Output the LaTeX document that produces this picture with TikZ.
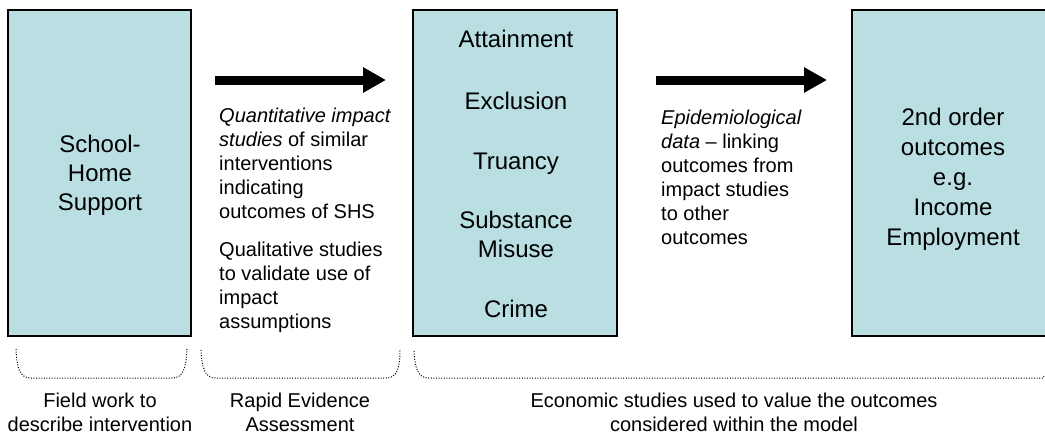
\documentclass[tikz,border=0pt]{standalone}
\usepackage{fontspec}
\setmainfont{Liberation Sans}
\usetikzlibrary{arrows.meta}
\definecolor{boxfill}{RGB}{185,223,227}
\begin{document}
\begin{tikzpicture}[x=1pt,y=-1pt,
  box/.style={draw=black,line width=1.6pt,fill=boxfill},
  boxtxt/.style={font=\fontsize{24}{29}\selectfont,align=center,anchor=base,inner sep=0pt},
  bodytxt/.style={font=\fontsize{20}{24}\selectfont,align=left,anchor=base west,inner sep=0pt},
  captxt/.style={font=\fontsize{20}{24}\selectfont,align=center,anchor=base,inner sep=0pt},
  bigarrow/.style={line width=9pt,-{Triangle[length=23pt,width=24pt]}},
  bracket/.style={line width=1pt,dash pattern=on 1pt off 1.6pt}]
\useasboundingbox (0,0) rectangle (1045,434);
\clip (0,0) rectangle (1045,434);
% boxes
\draw[box] (8,10) rectangle (191,336);
\draw[box] (413,10) rectangle (617,336);
\draw[box] (852,10) rectangle (1058,336);
% box texts (base anchor = baseline of last line)
\node[boxtxt] (shs) at (100,210) {School-\\Home\\Support};
\node[boxtxt] (att) at (516,47) {Attainment};
\node[boxtxt] (exc) at (516,109) {Exclusion};
\node[boxtxt] (tru) at (516,169) {Truancy};
\node[boxtxt] (sub) at (516,257) {Substance\\Misuse};
\node[boxtxt] (cri) at (516,317) {Crime};
\node[font=\fontsize{24}{30}\selectfont,align=center,anchor=base,inner sep=0pt] (sec) at (953,245) {2nd order\\outcomes\\e.g.\\Income\\Employment};
% arrows
\coordinate (a1s) at (215,80);
\coordinate (a1e) at (386,80);
\coordinate (a2s) at (656,80);
\coordinate (a2e) at (827,80);
\draw[bigarrow] (a1s) -- (a1e);
\draw[bigarrow] (a2s) -- (a2e);
% middle texts
\node[bodytxt] (quant) at (219,218) {\textit{Quantitative impact}\\\textit{studies} of similar\\interventions\\indicating\\outcomes of SHS};
\node[bodytxt] (qual) at (219,328) {Qualitative studies\\to validate use of\\impact\\assumptions};
\node[bodytxt] (epi) at (661,244) {\textit{Epidemiological}\\\textit{data} – linking\\outcomes from\\impact studies\\to other\\outcomes};
% brackets
\draw[bracket] (16,349) .. controls (17,369) and (20,378) .. (31,378) -- (172,378) .. controls (183,378) and (186,369) .. (187,349);
\draw[bracket] (201,350) .. controls (202,369) and (205,378) .. (216,378) -- (386,378) .. controls (397,378) and (400,369) .. (400,349);
\draw[bracket] (414,351) .. controls (415,369) and (418,378) .. (429,378) -- (1043,378) -- (1044,376);
% captions
\node[captxt] (c1) at (100,431) {Field work to\\describe intervention};
\node[captxt] (c2) at (300,431) {Rapid Evidence\\Assessment};
\node[captxt] (c3) at (734,431) {Economic studies used to value the outcomes\\considered within the model};
\end{tikzpicture}
\end{document}
